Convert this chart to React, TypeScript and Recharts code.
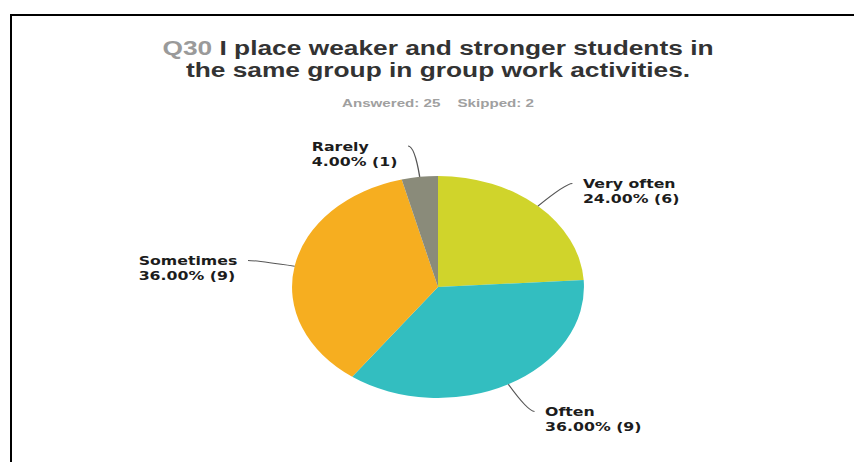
import React from 'react';
import { PieChart, Pie, Cell } from 'recharts';

const categories = ['Very often', 'Often', 'Sometimes', 'Rarely'];
const counts = [6, 9, 9, 1];
const sliceColors = ['#D0D42B', '#33BEC0', '#F6AE20', '#8A8B7A'];
const questionNo = 'Q30';
const questionText = ['I place weaker and stronger students in', 'the same group in group work activities.'];
const answered = 25;
const skipped = 2;

const data = categories.map((name, i) => ({ name, value: counts[i] }));

const SX = 1.315;
const W = 854 / SX;
const CX = 438 / SX;
const LABEL_FONT = "bold 12px 'DejaVu Sans'";

let ctx: CanvasRenderingContext2D | null = null;
function measure(t: string): number {
  if (!ctx) {
    const c = document.createElement('canvas');
    ctx = c.getContext('2d');
  }
  if (!ctx) return t.length * 7;
  ctx.font = LABEL_FONT;
  return ctx.measureText(t).width;
}

const renderLabel = (props: any) => {
  const { cx, cy, midAngle, outerRadius, value, percent, name, index } = props;
  const RAD = Math.PI / 180;
  const cos = Math.cos(-midAngle * RAD);
  const sin = Math.sin(-midAngle * RAD);
  const k = 31;
  const h = 5;
  const side = cos >= 0 ? 1 : -1;
  const sx = cx + outerRadius * cos;
  const sy = cy + outerRadius * sin;
  const mx = cx + (outerRadius + k) * cos;
  const my = cy + (outerRadius + k) * sin;
  const ex = mx + side * h;
  const ey = my;
  const line1 = name;
  const line2 = `${(percent * 100).toFixed(2)}% (${value})`;
  const gap = 8;
  let tx: number;
  if (side > 0) {
    tx = ex + gap;
  } else {
    const w = Math.max(measure(line1), measure(line2));
    tx = ex - gap - w;
  }
  return (
    <g key={`lbl-${index}`}>
      <path d={`M${sx},${sy}Q${mx},${my} ${ex},${ey}`} stroke="#555" strokeWidth={1} fill="none" />
      <text
        x={tx}
        y={ey + 5}
        fill="#1c1c1c"
        style={{ font: LABEL_FONT }}
        textAnchor="start"
      >
        <tspan x={tx} dy={0}>{line1}</tspan>
        <tspan x={tx} dy={15}>{line2}</tspan>
      </text>
    </g>
  );
};

export default function App() {
  return (
    <div
      style={{
        position: 'absolute',
        left: 0,
        top: 0,
        width: 854,
        height: 462,
        overflow: 'hidden',
        background: '#fff',
      }}
    >
      <div
        style={{
          position: 'absolute',
          left: 10,
          top: 14,
          width: 854,
          height: 462,
          borderTop: '2px solid #000',
          borderLeft: '2px solid #000',
          boxSizing: 'border-box',
        }}
      />
      <div
        style={{
          position: 'absolute',
          left: 0,
          top: 0,
          width: W,
          height: 462,
          transform: `scaleX(${SX})`,
          transformOrigin: '0 0',
        }}
      >
        <div
          style={{
            position: 'absolute',
            left: 0,
            top: 37,
            width: CX * 2,
            textAlign: 'center',
            fontFamily: "'Liberation Sans', Arial, sans-serif",
            fontWeight: 'bold',
            fontSize: 20,
            lineHeight: '22px',
            color: '#333',
          }}
        >
          <div>
            <span style={{ color: '#9a9a9a' }}>{questionNo}</span> {questionText[0]}
          </div>
          <div>{questionText[1]}</div>
        </div>
        <div
          style={{
            position: 'absolute',
            left: 0,
            top: 96,
            width: CX * 2,
            textAlign: 'center',
            fontFamily: "'Liberation Sans', Arial, sans-serif",
            fontWeight: 'bold',
            fontSize: 11.5,
            lineHeight: '14px',
            color: '#a0a0a0',
          }}
        >
          <span>Answered: {answered}</span>
          <span style={{ marginLeft: 13 }}>Skipped: {skipped}</span>
        </div>
        <div style={{ position: 'absolute', left: 0, top: 0 }}>
          <PieChart width={W} height={462} margin={{ top: 0, right: 0, bottom: 0, left: 0 }}>
            <Pie
              data={data}
              dataKey="value"
              nameKey="name"
              cx={CX}
              cy={287}
              outerRadius={111}
              startAngle={90}
              endAngle={-270}
              stroke="none"
              isAnimationActive={false}
              label={renderLabel}
              labelLine={false}
            >
              {data.map((d, i) => (
                <Cell key={d.name} fill={sliceColors[i]} />
              ))}
            </Pie>
          </PieChart>
        </div>
      </div>
    </div>
  );
}
